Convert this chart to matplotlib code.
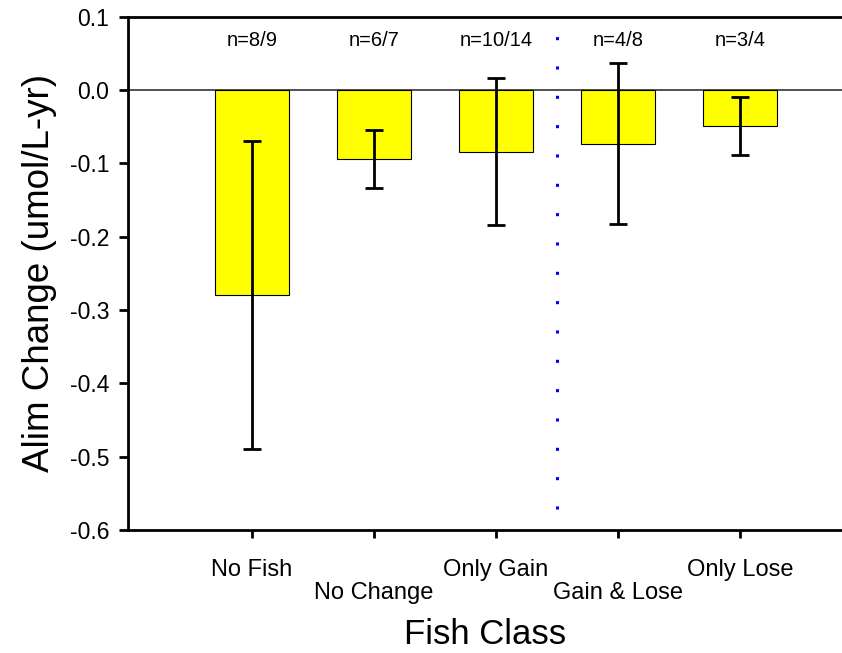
import matplotlib
matplotlib.use('Agg')
import matplotlib.pyplot as plt
import matplotlib.transforms as mtransforms

plt.rcParams['font.family'] = ['Liberation Sans', 'DejaVu Sans']

# values
classes = ['No Fish', 'No Change', 'Only Gain', 'Gain & Lose', 'Only Lose']
means = [-0.279, -0.094, -0.084, -0.073, -0.049]
errors = [0.21, 0.04, 0.10, 0.11, 0.04]
n_labels = ['n=8/9', 'n=6/7', 'n=10/14', 'n=4/8', 'n=3/4']
divider_x = 2.5
divider_bottom = -0.572

fig = plt.figure(figsize=(8.42, 6.53), dpi=100)
ax = fig.add_axes([128 / 842, 0.1884, 1 - 128 / 842, 0.9744 - 0.1884])

x = list(range(len(classes)))
ax.bar(x, means, width=0.6, color='#ffff00', edgecolor='black', linewidth=0.8, zorder=2)
ax.errorbar(x, means, yerr=errors, fmt='none', ecolor='black', elinewidth=2.0,
            capsize=6.2, capthick=2.0, zorder=3)
ax.axhline(0, color='#333333', linewidth=1.2, zorder=1)
ax.plot([divider_x, divider_x], [divider_bottom, 0.1], color='#0000ff', linewidth=2.2,
        linestyle=(0, (1, 8.6)), clip_on=False, zorder=4)

for xi, lab in zip(x, n_labels):
    ax.text(xi, 0.068, lab, ha='center', va='center', fontsize=14.5)

ax.set_xlim(-1.016, 4.836)
ax.set_ylim(-0.6, 0.1)
ax.set_yticks([0.1, 0.0, -0.1, -0.2, -0.3, -0.4, -0.5, -0.6])
ax.set_yticklabels(['0.1', '0.0', '-0.1', '-0.2', '-0.3', '-0.4', '-0.5', '-0.6'])
ax.set_xticks(x)
ax.set_xticklabels(classes)

ax.spines['right'].set_visible(False)
for side in ['left', 'top', 'bottom']:
    ax.spines[side].set_linewidth(2.0)
ax.tick_params(axis='y', direction='out', length=6.5, width=2.0, labelsize=16.5, pad=7)
ax.tick_params(axis='x', direction='out', length=6, width=2.0, labelsize=17, pad=15)

# stagger every other category label
offset = mtransforms.ScaledTranslation(0, -23 / 100, fig.dpi_scale_trans)
for i, lab in enumerate(ax.get_xticklabels()):
    if i % 2 == 1:
        lab.set_transform(lab.get_transform() + offset)

ax.set_xlabel('Fish Class', fontsize=25, labelpad=10)
ax.set_ylabel('Alim Change (umol/L-yr)', fontsize=26.5, labelpad=9.5)

fig.savefig('out.png', dpi=100)
